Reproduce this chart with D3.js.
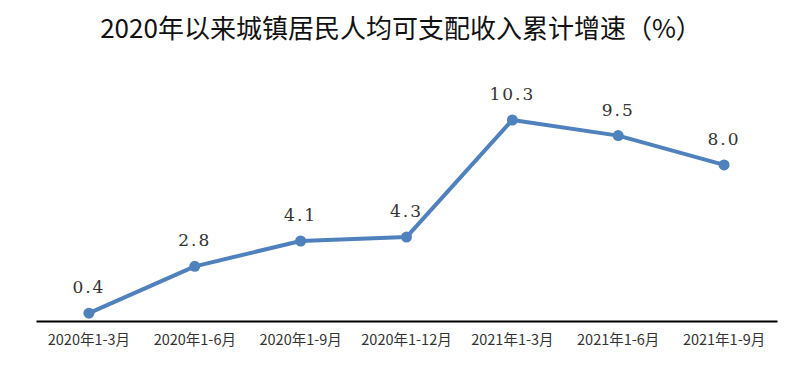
<!DOCTYPE html>
<html>
<head>
<meta charset="utf-8">
<script src="https://cdn.jsdelivr.net/npm/d3@7"></script>
<style>
  body { margin: 0; background: #fff; }
</style>
</head>
<body>
<div id="chart"></div>
<script>
const periods = ['2020年1-3月', '2020年1-6月', '2020年1-9月', '2020年1-12月', '2021年1-3月', '2021年1-6月', '2021年1-9月']
const growth = [0.4, 2.8, 4.1, 4.3, 10.3, 9.5, 8.0]

const WIDTH = 800, HEIGHT = 378
const MARGIN = { TOP: 70, BOTTOM: 57, LEFT: 36, RIGHT: 23 }

const svg = d3.select('#chart').append('svg')
  .attr('width', WIDTH).attr('height', HEIGHT)

svg.append('text')
  .attr('x', 401).attr('y', 38)
  .attr('text-anchor', 'middle')
  .attr('font-family', '"Noto Sans CJK SC", sans-serif')
  .attr('font-size', 26)
  .attr('font-weight', 400)
  .attr('fill', '#111')
  .text('2020年以来城镇居民人均可支配收入累计增速（%）')

const x = d3.scaleBand()
  .domain(periods)
  .range([MARGIN.LEFT, WIDTH - MARGIN.RIGHT])

const y = d3.scaleLinear()
  .domain([0, 10.3])
  .range([HEIGHT - MARGIN.BOTTOM, 120])

const cx = d => x(d) + x.bandwidth() / 2

// x axis
const xAxis = svg.append('g')
  .attr('transform', `translate(0, ${y(0)})`)
  .call(d3.axisBottom(x).tickSize(0).tickPadding(14))
xAxis.select('.domain').attr('stroke', '#000').attr('stroke-width', 2)
xAxis.selectAll('text')
  .attr('font-family', '"Noto Sans CJK SC", sans-serif')
  .attr('font-size', 14.5)
  .attr('fill', '#333')

const line = d3.line()
  .x((d, i) => cx(periods[i]))
  .y(d => y(d))

svg.append('path')
  .datum(growth)
  .attr('d', line)
  .attr('fill', 'none')
  .attr('stroke', '#4f81bd')
  .attr('stroke-width', 4)
  .attr('stroke-linejoin', 'round')

svg.selectAll('circle.pt')
  .data(growth)
  .enter().append('circle')
  .attr('class', 'pt')
  .attr('cx', (d, i) => cx(periods[i]))
  .attr('cy', d => y(d))
  .attr('r', 5.5)
  .attr('fill', '#4f81bd')

svg.selectAll('text.lbl')
  .data(growth)
  .enter().append('text')
  .attr('class', 'lbl')
  .attr('x', (d, i) => cx(periods[i]))
  .attr('y', d => y(d) - 20)
  .attr('text-anchor', 'middle')
  .attr('font-family', '"DejaVu Serif", serif')
  .attr('font-size', 17)
  .attr('letter-spacing', 2)
  .attr('fill', '#333')
  .text(d => d.toFixed(1))
</script>
</body>
</html>
